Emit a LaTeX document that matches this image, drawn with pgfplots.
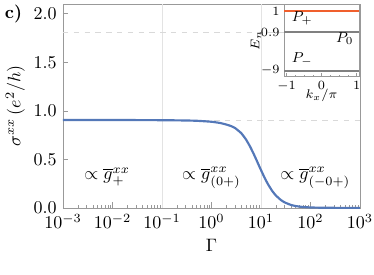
\documentclass[border=0pt]{standalone}
\usepackage{pgfplots}
\pgfplotsset{compat=1.18}
\definecolor{curve}{RGB}{84,120,184}
\definecolor{orng}{RGB}{240,95,45}
\begin{document}
\begin{tikzpicture}
\useasboundingbox (-35pt,-37.2pt) rectangle (172.8pt,115.5pt);
\begin{axis}[name=main, scale only axis, width=165pt, height=113.3pt,
  xmode=log, xmin=1e-3, xmax=1e3, ymin=0, ymax=2.1,
  xtick={1e-3,1e-2,1e-1,1,1e1,1e2,1e3},
  ytick={0,0.5,1,1.5,2},
  yticklabel style={/pgf/number format/.cd,fixed,fixed zerofill,precision=1},
  tick align=inside, xtick pos=bottom, ytick pos=left,
  axis line style={gray!80}, tick style={gray!80},
  major tick length=3pt, minor tick length=1.6pt,
  xlabel={$\Gamma$}, ylabel={$\sigma^{xx}\,(e^2/h)$},
  xlabel style={yshift=1pt}, ylabel style={yshift=-2pt},
  clip=false]
\draw[gray!22] (axis cs:1e-1,0) -- (axis cs:1e-1,2.1);
\draw[gray!22] (axis cs:1e1,0) -- (axis cs:1e1,2.1);
\draw[gray!30,dashed] (axis cs:1e-3,0.905) -- (axis cs:1e3,0.905);
\draw[gray!30,dashed] (axis cs:1e-3,1.81) -- (axis cs:1e3,1.81);
\addplot[curve, line width=1.2pt, smooth, tension=0.3] coordinates {
(1e-3,0.905) (1e-2,0.905) (1e-1,0.903) (0.3,0.900) (0.5,0.897) (1,0.887)
(1.5,0.874) (2,0.858) (2.5,0.842) (3,0.822) (4,0.769) (5,0.703) (6,0.633)
(7,0.564) (8,0.500) (9,0.441) (10,0.390) (12,0.304) (14,0.240) (17,0.172)
(20,0.128) (25,0.083) (30,0.057) (40,0.031) (50,0.019) (70,0.0093)
(100,0.0043) (200,0.0009) (1000,0.0)};
\node at (axis cs:7.8e-3,0.32) {$\propto \overline{g}^{xx}_{+}$};
\node at (axis cs:1,0.31) {$\propto \overline{g}^{xx}_{(0+)}$};
\node at (axis cs:1.25e2,0.31) {$\propto \overline{g}^{xx}_{(-0+)}$};
\node at ([xshift=-27.5pt]axis cs:1e-3,2.0) {\textbf{c)}};
\end{axis}
\begin{axis}[at={(main.north east)}, anchor=north east, xshift=-0.5pt, yshift=-0.5pt,
  scale only axis, width=41.7pt, height=40pt,
  axis background/.style={fill=white},
  xmin=-1.07, xmax=1.07, ymin=-2.13, ymax=1.29,
  xtick={-1,0,1}, ytick={-1.836,0,1}, yticklabels={$-9$,$0.9$,$1$},
  minor x tick num=3,
  tick align=inside, xtick pos=bottom, ytick pos=left,
  axis line style={gray!80}, tick style={gray!80},
  major tick length=2pt, minor tick length=1.2pt,
  tick label style={font=\scriptsize}, label style={font=\scriptsize},
  xlabel={$k_x/\pi$}, ylabel={$E_n$},
  xticklabel style={yshift=1pt},
  yticklabel style={xshift=1pt},
  xlabel style={yshift=8pt}, ylabel style={yshift=-7pt},
  clip=false]
\addplot[orng, line width=1.2pt] coordinates {(-1.07,1) (1.07,1)};
\addplot[gray, line width=1.2pt] coordinates {(-1.07,0) (1.07,0)};
\addplot[gray, line width=1.2pt] coordinates {(-1.07,-1.836) (1.07,-1.836)};
\node[font=\footnotesize] at (axis cs:-0.55,0.66) {$P_+$};
\node[font=\footnotesize] at (axis cs:0.66,-0.3) {$P_0$};
\node[font=\footnotesize] at (axis cs:-0.55,-1.3) {$P_-$};
\end{axis}
\end{tikzpicture}
\end{document}
